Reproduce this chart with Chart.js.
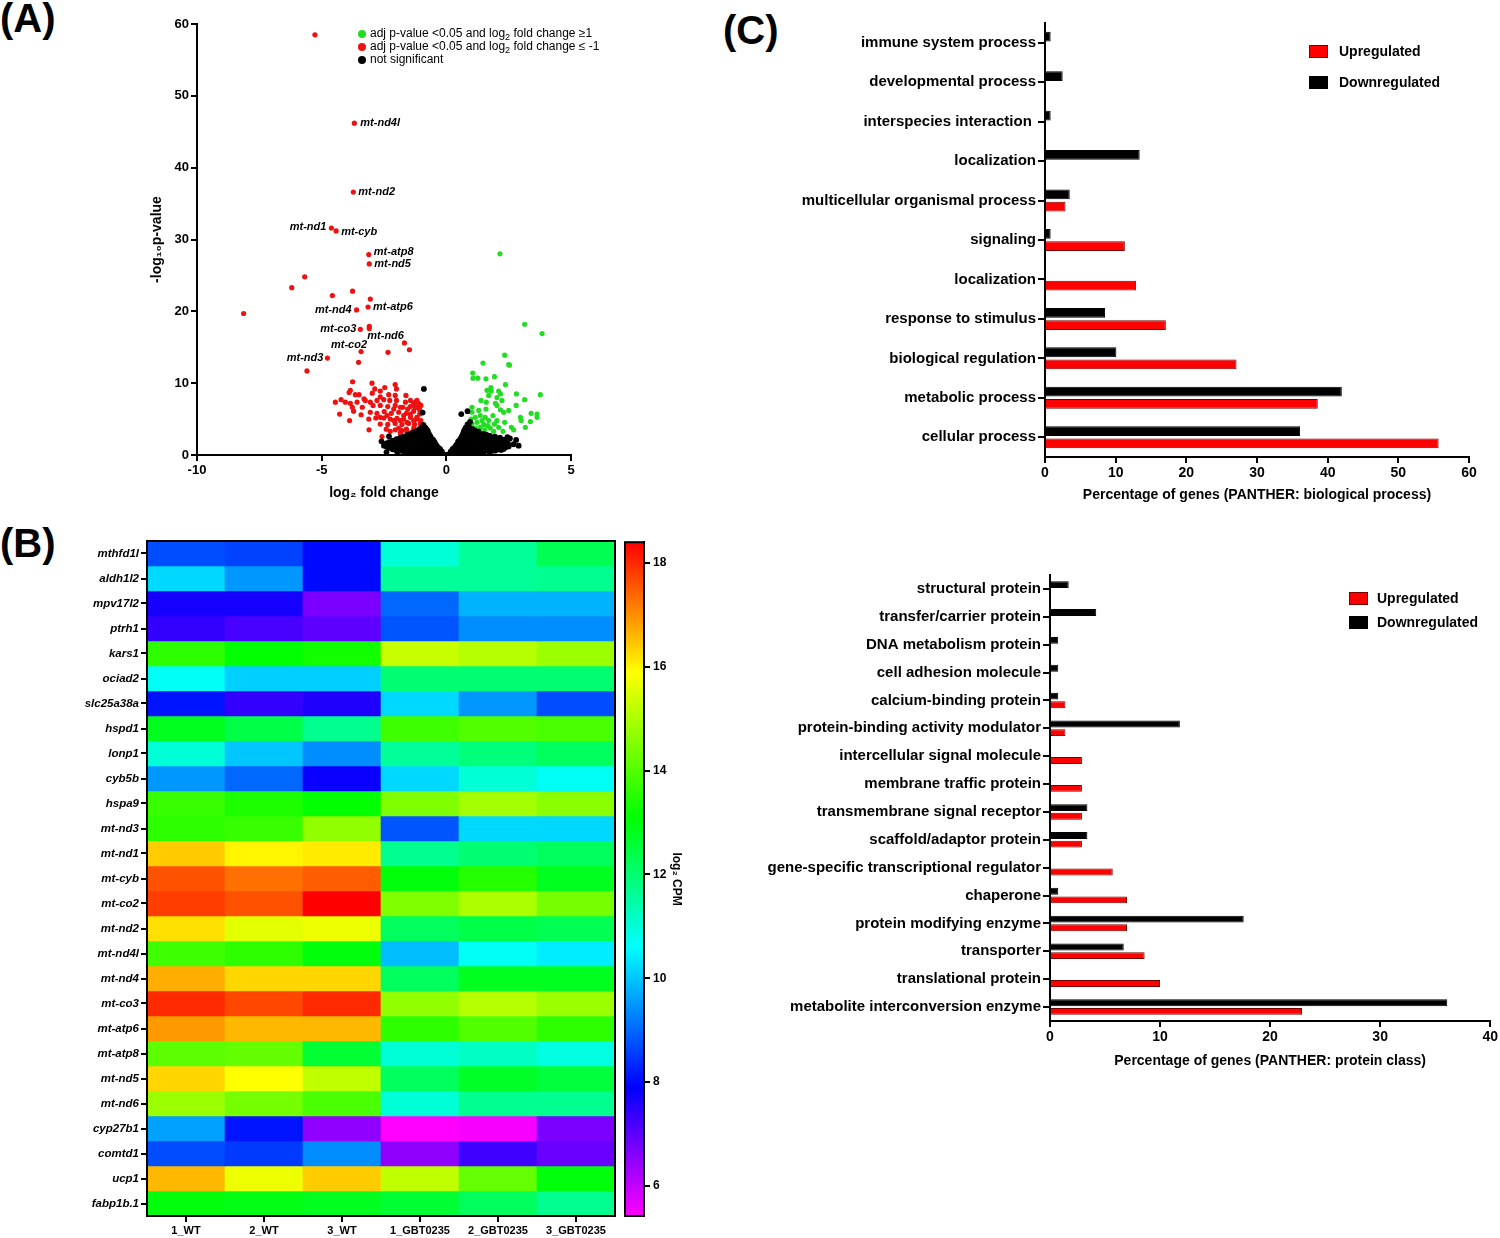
<!DOCTYPE html>
<html>
<head>
<meta charset="utf-8">
<script src="https://cdn.jsdelivr.net/npm/chart.js@4"></script>
<style>
  body { margin:0; background:#fff; width:1500px; height:1238px; position:relative; overflow:hidden;
         font-family:'Liberation Sans', Arial, sans-serif; color:#000; }
  canvas { position:absolute; }
  .pl { position:absolute; font-weight:bold; font-size:40px; line-height:42px; }
  .vl { position:absolute; font-size:12px; line-height:13px; white-space:nowrap; }
  .vl sub, .cl sub { font-size:9px; line-height:0; vertical-align:-3px; }
  .dot { display:inline-block; width:8px; height:8px; border-radius:50%; margin-right:4px; vertical-align:-1px; }
  .cl { position:absolute; font-weight:bold; font-size:14px; line-height:16px; white-space:nowrap; }
  .sq { position:absolute; width:17px; height:11px; border:1px solid #000; }
</style>
</head>
<body>
<div class="pl" style="left:0;top:-3px">(A)</div>
<div class="pl" style="left:0;top:522px">(B)</div>
<div class="pl" style="left:723px;top:9px">(C)</div>

<canvas id="cA" width="500" height="520" style="left:100px;top:0"></canvas>
<canvas id="cB" width="621" height="706" style="left:0;top:532px"></canvas>
<canvas id="cBar" width="100" height="706" style="left:600px;top:532px"></canvas>
<canvas id="cC1" width="780" height="520" style="left:720px;top:0"></canvas>
<canvas id="cC2" width="780" height="520" style="left:720px;top:560px"></canvas>

<div class="vl" style="left:358px;top:27px">
  <div><span class="dot" style="background:#22dd22"></span>adj p-value &lt;0.05 and log<sub>2</sub> fold change ≥1</div>
  <div><span class="dot" style="background:#ee1111"></span>adj p-value &lt;0.05 and log<sub>2</sub> fold change ≤ -1</div>
  <div><span class="dot" style="background:#000"></span>not significant</div>
</div>

<div class="sq" style="left:1309px;top:45px;background:#ff0000;border-color:#7a0000"></div>
<div class="cl" style="left:1339px;top:43px">Upregulated</div>
<div class="sq" style="left:1309px;top:76px;background:#000"></div>
<div class="cl" style="left:1339px;top:74px">Downregulated</div>

<div class="sq" style="left:1349px;top:592px;background:#ff0000;border-color:#7a0000"></div>
<div class="cl" style="left:1377px;top:590px">Upregulated</div>
<div class="sq" style="left:1349px;top:616px;background:#000"></div>
<div class="cl" style="left:1377px;top:614px">Downregulated</div>

<script>
// ---------- (A) volcano data ----------
const volcanoLabelled = [
  {gene:'mt-nd4l', x:-3.69, y:46.2}, {gene:'mt-nd2', x:-3.73, y:36.6},
  {gene:'mt-nd1', x:-4.61, y:31.6}, {gene:'mt-cyb', x:-4.42, y:31.2},
  {gene:'mt-atp8', x:-3.11, y:27.9}, {gene:'mt-nd5', x:-3.09, y:26.6},
  {gene:'mt-nd4', x:-3.6, y:20.2}, {gene:'mt-atp6', x:-3.14, y:20.6},
  {gene:'mt-co3', x:-3.45, y:17.5}, {gene:'mt-nd6', x:-3.09, y:17.6},
  {gene:'mt-co2', x:-3.42, y:14.4}, {gene:'mt-nd3', x:-4.77, y:13.5}
];
const volcanoDown = [
  [-5.27,58.5],[-5.68,24.8],[-6.2,23.3],[-4.57,22.2],[-3.76,22.8],[-3.05,21.7],[-8.13,19.7],
  [-3.09,17.9],[-1.68,15.6],[-1.48,14.65],[-2.34,14.3],[-3.52,12.9],[-5.59,11.7],
  [-3.76,10.2],[-2.98,10.0],[-2.05,9.8],[-2.0,9.2],[-2.47,9.4],[-2.87,9.2],[-3.85,9.0],[-3.9,8.7],
  [-3.65,8.4],[-3.5,8.4],[-2.97,8.6],[-2.65,8.9],[-2.05,8.3],[-1.62,8.3],[-3.3,7.8],[-4.45,7.35],
  [-4.22,7.7],[-4.05,7.35],[-3.85,7.2],[-3.58,7.35],[-3.25,7.6],[-3.05,7.35],[-2.78,7.6],[-2.51,7.7],
  [-2.27,7.6],[-2.0,7.6],[-1.64,7.35],[-1.24,7.35],[-1.11,7.2],[-3.77,6.65],[-3.37,6.65],[-2.94,6.9],
  [-2.65,6.9],[-2.35,6.75],[-2.05,6.9],[-1.75,6.65],[-1.44,6.75],[-1.18,6.65],[-1.02,6.9],[-4.28,5.7],
  [-3.72,6.1],[-3.42,5.6],[-3.05,5.95],[-2.78,5.8],[-2.49,6.05],[-2.21,5.8],[-1.91,5.95],[-1.6,5.8],
  [-1.31,6.1],[-1.07,5.7],[-3.88,4.8],[-3.11,5.0],[-2.83,5.15],[-2.51,5.15],[-2.25,5.0],[-1.98,5.1],
  [-1.71,5.0],[-1.44,5.25],[-1.18,5.0],[-1.02,4.8],[-2.65,4.3],[-2.35,4.25],[-2.05,4.4],[-1.78,4.25],
  [-1.51,4.4],[-1.27,4.25],[-1.04,4.4],[-3.1,3.5],[-2.41,3.6],[-1.91,3.75],[-1.6,3.6],[-1.31,3.75],
  [-1.11,3.6],[-1.58,3.3],[-1.38,3.15],[-1.78,3.4],[-2.05,3.5],[-2.25,3.3],[-1.18,3.3],[-1.02,3.95],
  [-1.31,4.8],[-1.58,4.55],[-1.84,4.8],[-2.11,4.8],[-2.38,5.5],[-2.65,5.25],[-2.11,6.4],[-1.84,6.65],
  [-1.55,6.4],[-1.24,6.65],[-1.07,6.3],[-1.31,7.2],[-1.44,7.6],[-1.18,7.6],[-2.31,8.4],[-2.65,8.1],
  [-1.18,5.25],[-1.44,5.7],[-1.71,5.5],[-2.58,2.56],[-1.85,3.1],[-1.45,2.95]
];
const volcanoUp = [
  [2.15,28.0],[3.14,18.2],[3.84,16.9],[2.34,13.9],[2.5,12.6],[2.53,12.5],[1.47,12.8],[1.06,11.4],
  [1.93,10.9],[1.07,10.7],[1.26,10.7],[1.59,10.6],[2.37,9.8],[1.79,9.4],[1.8,8.9],[2.1,8.9],[2.81,8.5],
  [3.77,8.4],[3.14,7.7],[2.03,8.0],[1.97,7.2],[2.8,6.9],[1.6,7.35],[2.03,6.9],[1.39,7.6],[1.03,6.65],
  [1.3,6.2],[1.59,6.4],[2.17,6.3],[2.3,5.95],[2.5,6.2],[3.64,5.7],[2.97,5.25],[3.0,4.8],[3.37,4.65],
  [3.17,3.85],[2.34,4.55],[2.61,3.85],[2.7,3.5],[1.87,5.5],[2.03,4.8],[2.27,3.3],[1.03,5.95],[1.16,5.25],
  [1.36,5.5],[1.56,5.25],[1.7,4.8],[1.43,4.8],[1.23,4.55],[1.03,4.3],[1.5,4.25],[1.66,4.1],[1.36,3.85],
  [1.16,3.75],[1.76,3.75],[1.54,3.5],[1.3,3.4],[1.93,4.3],[2.1,3.85],[1.9,3.3],[1.0,5.0],[2.23,7.6],
  [1.63,9.0],[1.7,8.3],[2.17,8.5],[3.4,5.8],[3.64,5.25]
];
const volcanoNS = [
  [-0.4,0.25],[-0.25,0.15],[-0.1,0.1],[0.05,0.05],[0.2,0.12],[0.35,0.2],[0.5,0.3],[-0.55,0.35],
  [-1.6,0.35],[-1.2,0.3],[-0.95,0.3],[-0.75,0.35],[0.65,0.35],[0.9,0.3],[1.1,0.35],[1.5,0.35],
  [-2.0,0.6],[-1.75,0.55],[-1.5,0.5],[-1.3,0.5],[-1.1,0.45],[-0.9,0.5],[-0.75,0.55],[-0.6,0.6],
  [-0.45,0.55],[-0.3,0.6],[-0.18,0.5],[0.18,0.5],[0.3,0.6],[0.45,0.55],[0.62,0.6],[0.8,0.5],[1.0,0.55],
  [1.2,0.5],[1.45,0.5],[1.7,0.55],[1.95,0.6],[2.15,0.8],
  [-2.15,0.8],[-1.9,0.75],[-1.65,0.8],[-1.4,0.75],[-1.2,0.75],[-1.0,0.8],[-0.82,0.75],[-0.67,0.8],
  [-0.52,0.8],[-0.38,0.75],[-0.25,0.8],[0.25,0.8],[0.38,0.75],[0.52,0.8],[0.67,0.75],[0.85,0.8],
  [1.05,0.75],[1.3,0.8],[1.55,0.75],[1.8,0.8],[2.05,0.75],[2.3,0.85],
  [-2.3,1.0],[-2.05,1.05],[-1.85,0.95],[-1.6,1.0],[-1.4,1.05],[-1.2,0.95],[-1.05,1.0],[-0.9,1.05],
  [-0.75,1.0],[-0.6,1.05],[-0.45,1.0],[-0.3,0.95],[0.3,0.95],[0.45,1.05],[0.6,1.0],[0.75,1.05],
  [0.9,0.95],[1.05,1.0],[1.2,1.05],[1.4,1.0],[1.6,0.95],[1.85,1.05],[2.1,1.0],[2.4,1.1],
  [-2.4,1.2],[-2.15,1.25],[-1.95,1.15],[-1.72,1.2],[-1.5,1.25],[-1.3,1.15],[-1.12,1.2],[-0.97,1.25],
  [-0.82,1.15],[-0.67,1.2],[-0.52,1.25],[-0.37,1.2],[0.37,1.2],[0.52,1.15],[0.67,1.25],[0.82,1.2],
  [0.97,1.15],[1.12,1.25],[1.3,1.2],[1.5,1.15],[1.72,1.25],[1.95,1.2],[2.2,1.15],[2.5,1.2],
  [-2.5,1.3],[-2.25,1.45],[-2.0,1.4],[-1.8,1.35],[-1.6,1.45],[-1.45,1.4],[-1.3,1.35],[-1.15,1.45],
  [-1.0,1.4],[-0.85,1.45],[-0.7,1.35],[-0.55,1.4],[-0.42,1.45],[0.4,1.4],[0.55,1.45],[0.7,1.35],
  [0.85,1.4],[1.0,1.45],[1.15,1.35],[1.3,1.4],[1.45,1.45],[1.6,1.35],[1.8,1.4],[2.0,1.45],[2.25,1.35],
  [2.5,1.4],[2.7,1.5],
  [-2.4,1.6],[-2.15,1.65],[-1.95,1.55],[-1.75,1.6],[-1.55,1.65],[-1.38,1.55],[-1.22,1.6],[-1.08,1.65],
  [-0.93,1.55],[-0.78,1.6],[-0.63,1.65],[-0.5,1.6],[0.5,1.6],[0.63,1.55],[0.78,1.65],[0.93,1.6],
  [1.08,1.55],[1.22,1.65],[1.38,1.6],[1.55,1.55],[1.75,1.65],[1.95,1.6],[2.2,1.55],[2.45,1.65],
  [-2.3,1.8],[-2.1,1.85],[-1.9,1.75],[-1.7,1.8],[-1.5,1.85],[-1.35,1.75],[-1.2,1.8],[-1.05,1.85],
  [-0.9,1.75],[-0.75,1.8],[-0.6,1.85],[-0.47,1.8],[0.47,1.85],[0.6,1.75],[0.75,1.8],[0.9,1.85],
  [1.05,1.75],[1.2,1.8],[1.35,1.85],[1.5,1.75],[1.7,1.8],[1.9,1.85],[2.15,1.75],[2.4,1.8],
  [-2.15,2.0],[-1.95,2.05],[-1.75,1.95],[-1.55,2.0],[-1.38,2.05],[-1.22,1.95],[-1.08,2.0],[-0.93,2.05],
  [-0.78,1.95],[-0.64,2.0],[-0.52,2.05],[0.52,2.0],[0.64,2.05],[0.78,1.95],[0.93,2.0],[1.08,2.05],
  [1.22,1.95],[1.38,2.0],[1.55,2.05],[1.75,1.95],[1.95,2.0],[2.2,2.05],[2.45,1.95],
  [-2.0,2.2],[-1.8,2.25],[-1.6,2.15],[-1.45,2.2],[-1.3,2.25],[-1.15,2.15],[-1.0,2.2],[-0.85,2.25],
  [-0.7,2.15],[-0.57,2.2],[0.57,2.25],[0.7,2.15],[0.85,2.2],[1.0,2.25],[1.15,2.15],[1.3,2.2],
  [1.45,2.25],[1.65,2.15],[1.85,2.2],[2.05,2.25],[2.3,2.15],[2.55,2.3],
  [-1.85,2.4],[-1.65,2.45],[-1.5,2.35],[-1.35,2.4],[-1.2,2.45],[-1.05,2.35],[-0.9,2.4],[-0.75,2.45],
  [-0.62,2.4],[0.6,2.4],[0.72,2.45],[0.85,2.35],[1.0,2.4],[1.15,2.45],[1.3,2.35],[1.5,2.4],[1.7,2.45],
  [1.9,2.35],[2.15,2.4],
  [-1.7,2.6],[-1.5,2.65],[-1.35,2.55],[-1.2,2.6],[-1.05,2.65],[-0.9,2.55],[-0.77,2.6],[-0.65,2.65],
  [0.62,2.6],[0.75,2.65],[0.9,2.55],[1.05,2.6],[1.2,2.65],[1.35,2.55],[1.55,2.6],[1.75,2.65],[1.95,2.55],
  [-1.55,2.8],[-1.4,2.85],[-1.25,2.75],[-1.1,2.8],[-0.95,2.85],[-0.82,2.75],[-0.7,2.8],[0.66,2.8],
  [0.8,2.85],[0.95,2.75],[1.1,2.8],[1.25,2.85],[1.42,2.75],[1.62,2.8],
  [-1.4,3.0],[-1.25,3.05],[-1.1,2.95],[-0.95,3.0],[-0.82,3.05],[-0.7,2.95],[0.68,3.0],[0.8,3.05],
  [0.95,2.95],[1.1,3.0],[1.3,3.05],[1.5,2.95],
  [-1.3,3.2],[-1.15,3.25],[-1.0,3.15],[-0.87,3.2],[-0.75,3.25],[0.7,3.2],[0.85,3.25],[1.0,3.15],
  [1.15,3.2],[1.3,3.25],
  [-1.15,3.4],[-1.0,3.45],[-0.87,3.35],[-0.75,3.4],[0.72,3.4],[0.85,3.45],[1.0,3.35],[1.15,3.4],
  [-1.05,3.6],[-0.92,3.65],[-0.8,3.6],[0.75,3.6],[0.9,3.65],[1.05,3.6],
  [-1.0,3.8],[-0.85,3.85],[0.78,3.8],[0.92,3.85],[-0.92,4.2],[0.85,4.25],[0.95,4.6],
  [-0.9,9.2],[-0.95,5.9],[0.6,5.7],[0.85,6.1],[-2.3,2.6],[-2.6,1.9],[-2.4,0.4],[-1.95,0.3],
  [2.8,2.1],[2.2,0.7],[1.75,0.3],[2.45,2.5],[2.9,1.3],[-1.4,0.2],[1.3,0.2]
];

// ---------- (B) heatmap data ----------
const heatGenes = ['mthfd1l','aldh1l2','mpv17l2','ptrh1','kars1','ociad2','slc25a38a','hspd1','lonp1',
  'cyb5b','hspa9','mt-nd3','mt-nd1','mt-cyb','mt-co2','mt-nd2','mt-nd4l','mt-nd4','mt-co3','mt-atp6',
  'mt-atp8','mt-nd5','mt-nd6','cyp27b1','comtd1','ucp1','fabp1b.1'];
const heatSamples = ['1_WT','2_WT','3_WT','1_GBT0235','2_GBT0235','3_GBT0235'];
const heatValues = [
  [8.7,8.6,8.0,11.0,11.6,12.3],
  [10.2,9.5,8.0,11.6,11.6,11.7],
  [7.7,7.7,6.7,9.0,9.8,9.8],
  [7.4,7.2,7.0,8.8,9.4,9.4],
  [13.6,13.1,13.3,15.3,15.1,14.8],
  [10.7,10.1,10.1,12.0,12.0,12.0],
  [8.1,7.4,7.6,10.2,9.5,8.7],
  [12.8,12.4,11.7,13.8,14.0,13.9],
  [11.0,10.0,9.4,11.6,11.9,12.2],
  [9.5,9.0,7.8,10.2,11.0,10.7],
  [13.7,13.4,13.1,14.5,14.9,14.6],
  [13.6,13.7,14.7,8.8,10.2,10.2],
  [16.4,16.0,16.1,11.7,12.0,12.2],
  [17.6,17.3,17.5,13.0,13.5,12.8],
  [17.8,17.6,18.4,14.5,15.0,14.4],
  [16.2,15.6,15.7,12.2,12.4,12.3],
  [13.8,13.6,13.0,9.9,10.7,10.4],
  [16.7,16.3,16.3,12.2,12.8,12.8],
  [18.0,17.7,18.0,14.7,15.1,14.8],
  [16.9,16.6,16.6,13.6,14.0,13.6],
  [14.1,14.2,12.6,11.0,11.2,10.9],
  [16.3,15.9,15.2,12.2,12.7,12.5],
  [14.8,14.4,13.9,11.0,11.7,11.7],
  [9.6,8.1,6.5,5.4,5.5,6.7],
  [8.7,8.5,9.4,6.5,7.3,6.9],
  [16.6,15.7,16.4,15.2,14.2,13.0],
  [13.0,12.9,12.8,12.6,12.2,11.7]
];
const colorRange = [5.42, 18.4];
const colorTicks = [6, 8, 10, 12, 14, 16, 18];

// ---------- (C) PANTHER data ----------
const bpLabels = ['immune system process','developmental process','interspecies interaction ','localization',
  'multicellular organismal process','signaling','localization','response to stimulus',
  'biological regulation','metabolic process','cellular process'];
const bpDown = [0.8,2.5,0.8,13.4,3.5,0.8,0,8.5,10.1,42.0,36.1];
const bpUp   = [0,0,0,0,2.9,11.3,12.9,17.1,27.1,38.6,55.7];

const pcLabels = ['structural protein','transfer/carrier protein','DNA metabolism protein','cell adhesion molecule',
  'calcium-binding protein','protein-binding activity modulator','intercellular signal molecule',
  'membrane traffic protein','transmembrane signal receptor','scaffold/adaptor protein',
  'gene-specific transcriptional regulator','chaperone','protein modifying enzyme','transporter',
  'translational protein','metabolite interconversion enzyme'];
const pcDown = [1.7,4.2,0.75,0.75,0.75,11.8,0,0,3.4,3.4,0,0.75,17.6,6.7,0,36.1];
const pcUp   = [0,0,0,0,1.4,1.4,2.9,2.9,2.9,2.9,5.7,7.0,7.0,8.6,10.0,22.9];

// ---------- shared ----------
const FONT = "'Liberation Sans', Arial, sans-serif";
Chart.defaults.font.family = FONT;
Chart.defaults.color = '#000';
Chart.defaults.animation = false;
Chart.defaults.plugins.legend.display = false;
Chart.defaults.plugins.tooltip.enabled = false;

const axisGrid = (len) => ({drawOnChartArea:false, drawTicks:true, tickLength:len, color:'#000', lineWidth:2, offset:false});
const axisBorder = {display:true, color:'#000', width:2};
const bold = (s) => ({size:s, weight:'bold'});

const framePlugin = {
  id:'frame',
  afterDraw(chart) {
    const {ctx, chartArea:a} = chart;
    ctx.save();
    ctx.strokeStyle = '#000';
    ctx.lineWidth = 2;
    ctx.strokeRect(a.left, a.top, a.right - a.left, a.bottom - a.top);
    ctx.restore();
  }
};

// ---------- (A) ----------
const labelStyle = {
  'mt-nd4l':['left',6,0], 'mt-nd2':['left',5,0], 'mt-nd1':['right',-5,-1], 'mt-cyb':['left',5,1],
  'mt-atp8':['left',5,-3], 'mt-nd5':['left',5,0], 'mt-nd4':['right',-5,0], 'mt-atp6':['left',5,0],
  'mt-co3':['right',-4,0], 'mt-nd6':['left',-2,7], 'mt-co2':['right',6,-7], 'mt-nd3':['right',-4,0]
};
const geneLabels = {
  id:'geneLabels',
  afterDatasetsDraw(chart) {
    const {ctx, scales:{x, y}} = chart;
    ctx.save();
    ctx.font = "italic bold 11px " + FONT;
    ctx.fillStyle = '#000';
    ctx.textBaseline = 'middle';
    volcanoLabelled.forEach(p => {
      const [align, dx, dy] = labelStyle[p.gene];
      ctx.textAlign = align;
      ctx.fillText(p.gene, x.getPixelForValue(p.x) + dx, y.getPixelForValue(p.y) + dy);
    });
    ctx.restore();
  }
};

new Chart(document.getElementById('cA'), {
  type:'scatter',
  data:{datasets:[
    {data:volcanoNS.map(([x,y]) => ({x,y})), backgroundColor:'#000', pointRadius:2.9, pointBorderWidth:0, order:0},
    {data:volcanoLabelled.map(p => ({x:p.x, y:p.y})).concat(volcanoDown.map(([x,y]) => ({x,y}))),
     backgroundColor:'#ee1111', pointRadius:2.6, pointBorderWidth:0, order:1},
    {data:volcanoUp.map(([x,y]) => ({x,y})), backgroundColor:'#22dd22', pointRadius:2.6, pointBorderWidth:0, order:1}
  ]},
  options:{
    responsive:false,
    layout:{padding:{left:47, top:24, right:29, bottom:16}},
    scales:{
      x:{type:'linear', min:-10, max:5, ticks:{stepSize:5, font:bold(13), padding:2},
         grid:axisGrid(6), border:axisBorder,
         title:{display:true, text:'log₂ fold change', font:bold(14), padding:{top:6, bottom:2}},
         afterFit:s => { s.height = 49; }},
      y:{min:0, max:60, ticks:{stepSize:10, font:bold(13), padding:2},
         grid:axisGrid(6), border:axisBorder,
         title:{display:true, text:'-log₁₀p-value', font:bold(14), padding:{top:2, bottom:2}},
         afterFit:s => { s.width = 50; }}
    }
  },
  plugins:[geneLabels]
});

// ---------- (B) heatmap ----------
const heatStops = [[5.42,[255,0,255]],[7.9,[0,0,255]],[10.6,[0,255,255]],[13.1,[0,255,0]],[15.9,[255,255,0]],[18.4,[255,0,0]]];
function heatColor(v) {
  for (let i = 1; i < heatStops.length; i++) {
    if (v <= heatStops[i][0] || i === heatStops.length - 1) {
      const [a, ca] = heatStops[i-1], [b, cb] = heatStops[i];
      const t = Math.max(0, Math.min(1, (v - a) / (b - a)));
      return 'rgb(' + ca.map((c, k) => Math.round(c + (cb[k] - c) * t)).join(',') + ')';
    }
  }
}

const nR = heatGenes.length;
new Chart(document.getElementById('cB'), {
  type:'bar',
  data:{
    labels:heatSamples,
    datasets:heatGenes.map((g, r) => ({
      label:g,
      data:heatSamples.map(() => [nR - r - 1, nR - r]),
      backgroundColor:heatValues[r].map(heatColor),
      borderWidth:0, grouped:false, barPercentage:1, categoryPercentage:1
    }))
  },
  options:{
    responsive:false,
    layout:{padding:{left:0, top:9, right:6, bottom:0}},
    scales:{
      x:{grid:axisGrid(6), border:axisBorder,
         ticks:{font:bold(11), maxRotation:0, padding:2},
         afterFit:s => { s.height = 22; }},
      y:{min:0, max:nR,
         afterBuildTicks:s => { s.ticks = heatGenes.map((g, i) => ({value:nR - i - 0.5})); },
         ticks:{autoSkip:false, font:{size:11.5, weight:'bold', style:'italic'}, padding:2,
                callback:v => heatGenes[Math.round(nR - 0.5 - v)]},
         grid:axisGrid(6), border:axisBorder,
         afterFit:s => { s.width = 147; }}
    }
  },
  plugins:[framePlugin]
});

// colour bar
new Chart(document.getElementById('cBar'), {
  type:'bar',
  data:{labels:[''], datasets:[{
    data:[colorRange],
    borderWidth:0, barPercentage:1, categoryPercentage:1,
    backgroundColor:(c) => {
      const {chart} = c;
      if (!chart.chartArea) return '#fff';
      const ys = chart.scales.y;
      const g = chart.ctx.createLinearGradient(0, ys.getPixelForValue(colorRange[1]), 0, ys.getPixelForValue(colorRange[0]));
      heatStops.forEach(([v, col]) => g.addColorStop((colorRange[1] - v) / (colorRange[1] - colorRange[0]), 'rgb(' + col.join(',') + ')'));
      return g;
    }
  }]},
  options:{
    responsive:false,
    layout:{padding:{left:25, top:9, right:16, bottom:22}},
    scales:{
      x:{display:false},
      y:{position:'right', min:colorRange[0], max:colorRange[1],
         afterBuildTicks:s => { s.ticks = colorTicks.map(v => ({value:v})); },
         ticks:{font:bold(12), padding:3},
         grid:axisGrid(6), border:axisBorder,
         title:{display:true, text:'log₂ CPM', font:bold(12), padding:{top:0, bottom:0}},
         afterFit:s => { s.width = 40; }}
    }
  },
  plugins:[framePlugin]
});

// ---------- (C) bar charts ----------
function pantherChart(id, labels, down, up, xmax, step, title, pad, yW, xH, fontSize) {
  new Chart(document.getElementById(id), {
    type:'bar',
    data:{labels:labels, datasets:[
      {label:'Downregulated', data:down, backgroundColor:'#000', borderColor:'#000',
       borderWidth:c => c.raw ? 1 : 0, barPercentage:0.8, categoryPercentage:0.62},
      {label:'Upregulated', data:up, backgroundColor:'#ff0000', borderColor:'#7a0000',
       borderWidth:c => c.raw ? 1 : 0, barPercentage:0.8, categoryPercentage:0.62}
    ]},
    options:{
      responsive:false,
      indexAxis:'y',
      layout:{padding:pad},
      scales:{
        x:{min:0, max:xmax, ticks:{stepSize:step, font:bold(14), padding:2},
           grid:axisGrid(6), border:axisBorder,
           title:{display:true, text:title, font:bold(14), padding:{top:6, bottom:2}},
           afterFit:s => { s.height = xH; }},
        y:{ticks:{autoSkip:false, font:bold(fontSize), padding:2},
           grid:axisGrid(7), border:axisBorder,
           afterFit:s => { s.width = yW; }}
      }
    }
  });
}
pantherChart('cC1', bpLabels, bpDown, bpUp, 60, 10, 'Percentage of genes (PANTHER: biological process)',
  {left:0, top:23, right:31, bottom:14}, 325, 49, 15);
pantherChart('cC2', pcLabels, pcDown, pcUp, 40, 10, 'Percentage of genes (PANTHER: protein class)',
  {left:0, top:15, right:7, bottom:8}, 330, 51, 15);
</script>
</body>
</html>
